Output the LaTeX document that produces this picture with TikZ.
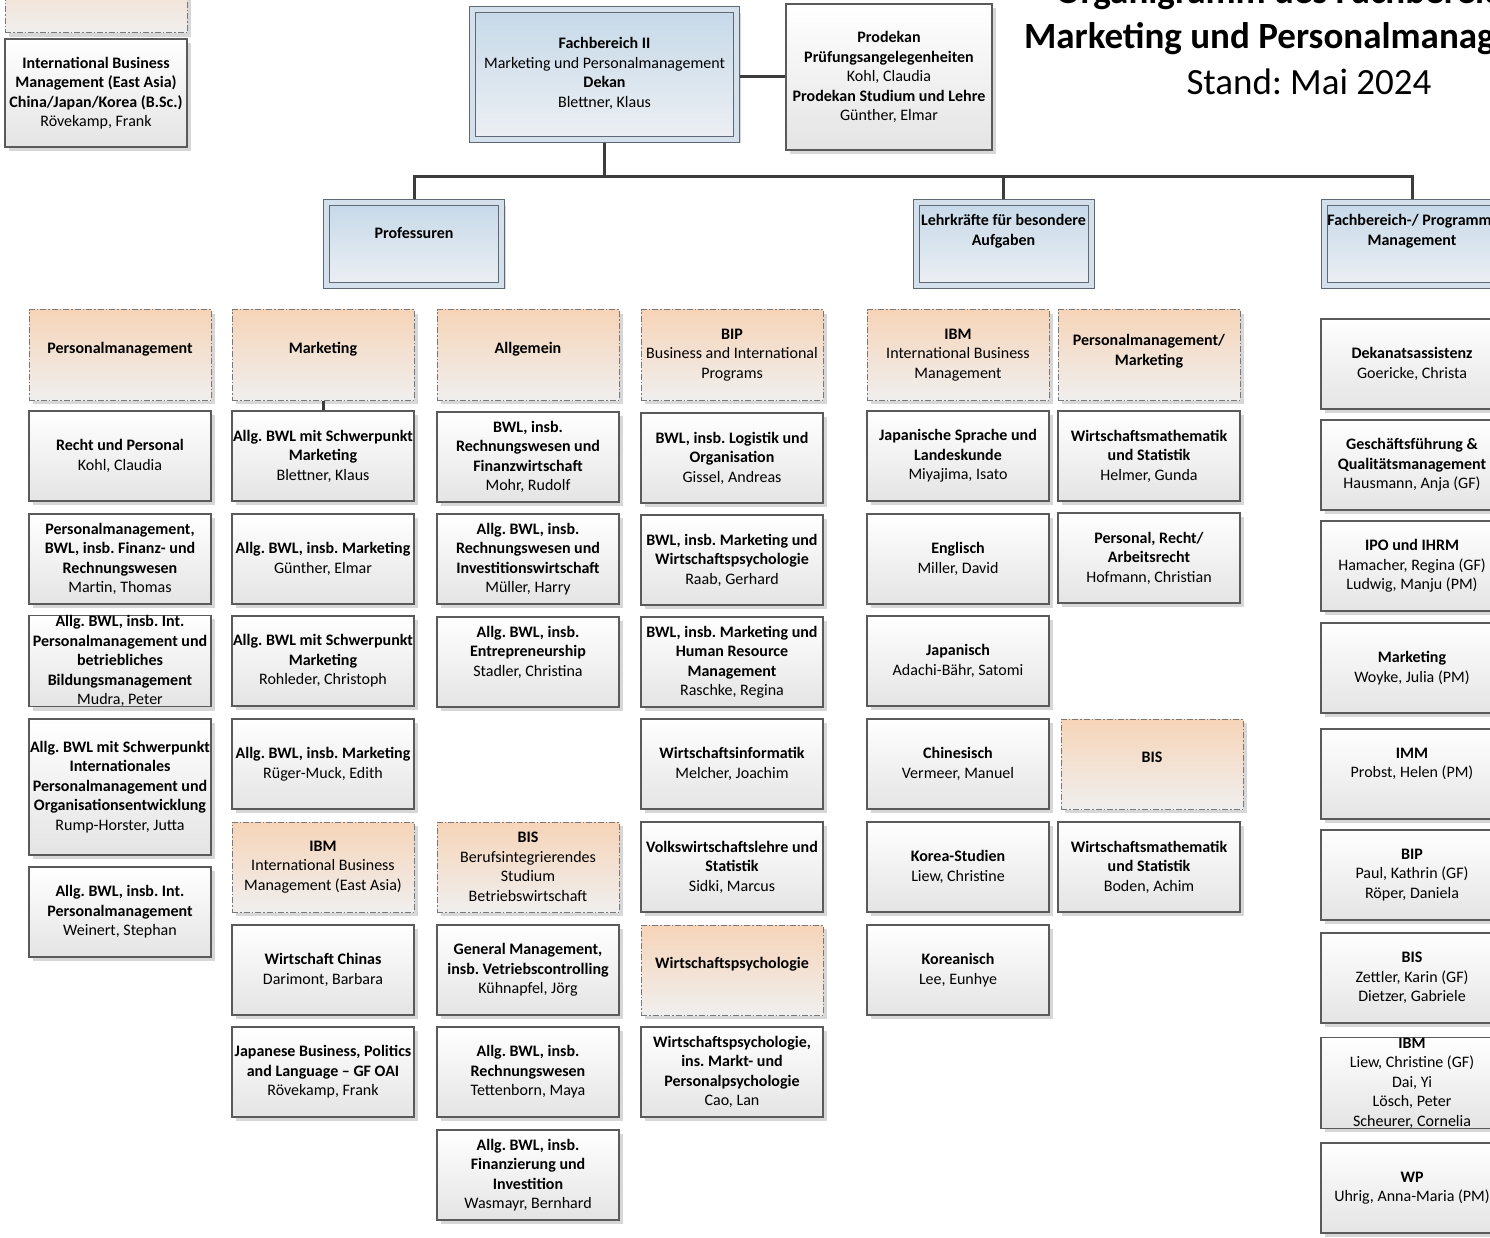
\documentclass[tikz,border=0pt]{standalone}
\usepackage{fontspec}
\setmainfont{Carlito}
\frenchspacing
\usetikzlibrary{shadows}
\definecolor{peach}{RGB}{246,212,184}
\definecolor{grplow}{RGB}{240,239,238}
\definecolor{grpedge}{RGB}{120,120,120}
\definecolor{steel}{RGB}{198,217,233}
\definecolor{unitlow}{RGB}{236,239,243}
\definecolor{unitgap}{RGB}{212,224,235}
\definecolor{unitedge}{RGB}{95,105,115}
\definecolor{cardedge}{RGB}{90,90,90}
\definecolor{cardlow}{RGB}{228,228,228}
\definecolor{shadowgray}{RGB}{215,215,215}
\definecolor{linkgray}{RGB}{60,60,60}
\begin{document}
\begin{tikzpicture}[x=1pt,y=-1pt]
    \tikzstyle{every node}+=[inner sep=0pt, align=center, font=\fontsize{16}{19.5}\selectfont, execute at begin node={\rule{0pt}{18pt}}]
    \tikzstyle{card}=[draw=cardedge, line width=1.3pt, top color=white, bottom color=cardlow, minimum width=182pt, minimum height=90pt, general shadow={fill=shadowgray, shadow xshift=4pt, shadow yshift=-4pt}]
    \tikzstyle{grp}=[card, draw=grpedge, line width=1pt, dash pattern=on 6pt off 2pt on 1.5pt off 2pt, top color=peach, bottom color=grplow]
    \tikzstyle{unit}=[card, draw=unitedge, line width=1pt, double=unitgap, double distance=5pt, top color=steel, bottom color=unitlow, minimum width=175pt, minimum height=83pt, outer sep=3.5pt, text depth=28pt]
    \tikzstyle{link}=[draw=linkgray, line width=3pt]
    \useasboundingbox (0,0) rectangle (1490,1238);
    \node[anchor=base, font=\fontsize{37}{46}\selectfont\bfseries] (ttl1) at (1309,4) {Organigramm des Fachbereichs II};
    \node[anchor=base, font=\fontsize{37}{46}\selectfont\bfseries] (ttl2) at (1309,49) {Marketing und Personalmanagement};
    \node[anchor=base, font=\fontsize{37}{46}\selectfont] (ttl3) at (1309,95) {Stand: Mai 2024};
    \node[grp] (tl0) at (96,-12) {};
    \node[card, minimum height=108pt] (tl1) at (96,93) {\textbf{International Business}\\\textbf{Management (East Asia)}\\\textbf{China/Japan/Korea (B.Sc.)}\\Rövekamp, Frank};
    \node[unit, minimum width=264pt, minimum height=130pt, text depth=4pt] (fb) at (604.5,74.5) {\textbf{Fachbereich II}\\Marketing und Personalmanagement\\\textbf{Dekan}\\Blettner, Klaus};
    \node[card, minimum width=206pt, minimum height=146pt] (pd) at (889,77) {\textbf{Prodekan}\\\textbf{Prüfungsangelegenheiten}\\Kohl, Claudia\\\textbf{Prodekan Studium und Lehre}\\Günther, Elmar};
    \node[unit] (prof) at (414,244) {\textbf{Professuren}};
    \node[unit] (lk) at (1003.5,244) {\textbf{Lehrkräfte für besondere}\\\textbf{Aufgaben}};
    \node[unit] (fpm) at (1412,244) {\textbf{Fachbereich-/ Programm-}\\\textbf{Management}};
    \coordinate (bus) at (604.5,177);
    \draw [link] (pd.west -| fb.east) -- (pd.west);
    \draw [link] (fb.south) -- (bus);
    \draw [link] (prof.north) |- (bus) -| (fpm.north);
    \draw [link] (lk.north) -- (lk.north |- bus);
    \node[grp, text depth=22pt] (pm0) at (120,355) {\textbf{Personalmanagement}};
    \node[card] (pm1) at (120,456) {\textbf{Recht und Personal}\\Kohl, Claudia};
    \node[card] (pm2) at (120,559) {\textbf{Personalmanagement,}\\\textbf{BWL, insb. Finanz- und}\\\textbf{Rechnungswesen}\\Martin, Thomas};
    \node[card] (pm3) at (120,661) {\textbf{Allg. BWL, insb. Int.}\\\textbf{Personalmanagement und}\\\textbf{betriebliches}\\\textbf{Bildungsmanagement}\\Mudra, Peter};
    \node[card, minimum height=136pt] (pm4) at (120,787) {\textbf{Allg. BWL mit Schwerpunkt}\\\textbf{Internationales}\\\textbf{Personalmanagement und}\\\textbf{Organisationsentwicklung}\\Rump-Horster, Jutta};
    \node[card] (pm5) at (120,912) {\textbf{Allg. BWL, insb. Int.}\\\textbf{Personalmanagement}\\Weinert, Stephan};
    \node[grp, text depth=22pt] (mk0) at (323,355) {\textbf{Marketing}};
    \node[card] (mk1) at (323,456) {\textbf{Allg. BWL mit Schwerpunkt}\\\textbf{Marketing}\\Blettner, Klaus};
    \node[card] (mk2) at (323,559) {\textbf{Allg. BWL, insb. Marketing}\\Günther, Elmar};
    \node[card] (mk3) at (323,661) {\textbf{Allg. BWL mit Schwerpunkt}\\\textbf{Marketing}\\Rohleder, Christoph};
    \node[card] (mk4) at (323,764) {\textbf{Allg. BWL, insb. Marketing}\\Rüger-Muck, Edith};
    \node[grp] (mk5) at (323,867) {\textbf{IBM}\\International Business\\Management (East Asia)};
    \node[card] (mk6) at (323,970) {\textbf{Wirtschaft Chinas}\\Darimont, Barbara};
    \node[card] (mk7) at (323,1072) {\textbf{Japanese Business, Politics}\\\textbf{and Language – GF OAI}\\Rövekamp, Frank};
    \draw [link] (mk0.south) -- (mk1.north);
    \node[grp, text depth=22pt] (al0) at (528,355) {\textbf{Allgemein}};
    \node[card] (al1) at (528,457) {\textbf{BWL, insb.}\\\textbf{Rechnungswesen und}\\\textbf{Finanzwirtschaft}\\Mohr, Rudolf};
    \node[card] (al2) at (528,559) {\textbf{Allg. BWL, insb.}\\\textbf{Rechnungswesen und}\\\textbf{Investitionswirtschaft}\\Müller, Harry};
    \node[card, text depth=22pt] (al3) at (528,662) {\textbf{Allg. BWL, insb.}\\\textbf{Entrepreneurship}\\Stadler, Christina};
    \node[grp] (al4) at (528,867) {\textbf{BIS}\\Berufsintegrierendes\\Studium\\Betriebswirtschaft};
    \node[card] (al5) at (528,970) {\textbf{General Management,}\\\textbf{insb. Vetriebscontrolling}\\Kühnapfel, Jörg};
    \node[card] (al6) at (528,1072) {\textbf{Allg. BWL, insb.}\\\textbf{Rechnungswesen}\\Tettenborn, Maya};
    \node[card] (al7) at (528,1175) {\textbf{Allg. BWL, insb.}\\\textbf{Finanzierung und}\\\textbf{Investition}\\Wasmayr, Bernhard};
    \node[grp] (bip0) at (732,355) {\textbf{BIP}\\Business and International\\Programs};
    \node[card] (bip1) at (732,458) {\textbf{BWL, insb. Logistik und}\\\textbf{Organisation}\\Gissel, Andreas};
    \node[card] (bip2) at (732,560) {\textbf{BWL, insb. Marketing und}\\\textbf{Wirtschaftspsychologie}\\Raab, Gerhard};
    \node[card] (bip3) at (732,662) {\textbf{BWL, insb. Marketing und}\\\textbf{Human Resource}\\\textbf{Management}\\Raschke, Regina};
    \node[card] (bip4) at (732,764) {\textbf{Wirtschaftsinformatik}\\Melcher, Joachim};
    \node[card] (bip5) at (732,867) {\textbf{Volkswirtschaftslehre und}\\\textbf{Statistik}\\Sidki, Marcus};
    \node[grp, text depth=22pt] (bip6) at (732,970) {\textbf{Wirtschaftspsychologie}};
    \node[card] (bip7) at (732,1072) {\textbf{Wirtschaftspsychologie,}\\\textbf{ins. Markt- und}\\\textbf{Personalpsychologie}\\Cao, Lan};
    \node[grp] (ibm0) at (958,355) {\textbf{IBM}\\International Business\\Management};
    \node[card] (ibm1) at (958,456) {\textbf{Japanische Sprache und}\\\textbf{Landeskunde}\\Miyajima, Isato};
    \node[card] (ibm2) at (958,559) {\textbf{Englisch}\\Miller, David};
    \node[card] (ibm3) at (958,661) {\textbf{Japanisch}\\Adachi-Bähr, Satomi};
    \node[card] (ibm4) at (958,764) {\textbf{Chinesisch}\\Vermeer, Manuel};
    \node[card] (ibm5) at (958,867) {\textbf{Korea-Studien}\\Liew, Christine};
    \node[card] (ibm6) at (958,970) {\textbf{Koreanisch}\\Lee, Eunhye};
    \node[grp, text depth=10pt] (pmm0) at (1149,355) {\textbf{Personalmanagement/}\\\textbf{Marketing}};
    \node[card] (pmm1) at (1149,456) {\textbf{Wirtschaftsmathematik}\\\textbf{und Statistik}\\Helmer, Gunda};
    \node[card] (pmm2) at (1149,558) {\textbf{Personal, Recht/}\\\textbf{Arbeitsrecht}\\Hofmann, Christian};
    \node[grp, text depth=22pt] (pmm3) at (1152,764) {\textbf{BIS}};
    \node[card] (pmm4) at (1149,867) {\textbf{Wirtschaftsmathematik}\\\textbf{und Statistik}\\Boden, Achim};
    \node[card] (fpm1) at (1412,364) {\textbf{Dekanatsassistenz}\\Goericke, Christa};
    \node[card] (fpm2) at (1412,465) {\textbf{Geschäftsführung \&}\\\textbf{Qualitätsmanagement}\\Hausmann, Anja (GF)};
    \node[card] (fpm3) at (1412,566) {\textbf{IPO und IHRM}\\Hamacher, Regina (GF)\\Ludwig, Manju (PM)};
    \node[card] (fpm4) at (1412,668) {\textbf{Marketing}\\Woyke, Julia (PM)};
    \node[card, text depth=22pt] (fpm5) at (1412,774) {\textbf{IMM}\\Probst, Helen (PM)};
    \node[card] (fpm6) at (1412,875) {\textbf{BIP}\\Paul, Kathrin (GF)\\Röper, Daniela};
    \node[card] (fpm7) at (1412,978) {\textbf{BIS}\\Zettler, Karin (GF)\\Dietzer, Gabriele};
    \node[card] (fpm8) at (1412,1083) {\textbf{IBM}\\Liew, Christine (GF)\\Dai, Yi\\Lösch, Peter\\Scheurer, Cornelia};
    \node[card] (fpm9) at (1412,1188) {\textbf{WP}\\Uhrig, Anna-Maria (PM)};
\end{tikzpicture}
\end{document}
